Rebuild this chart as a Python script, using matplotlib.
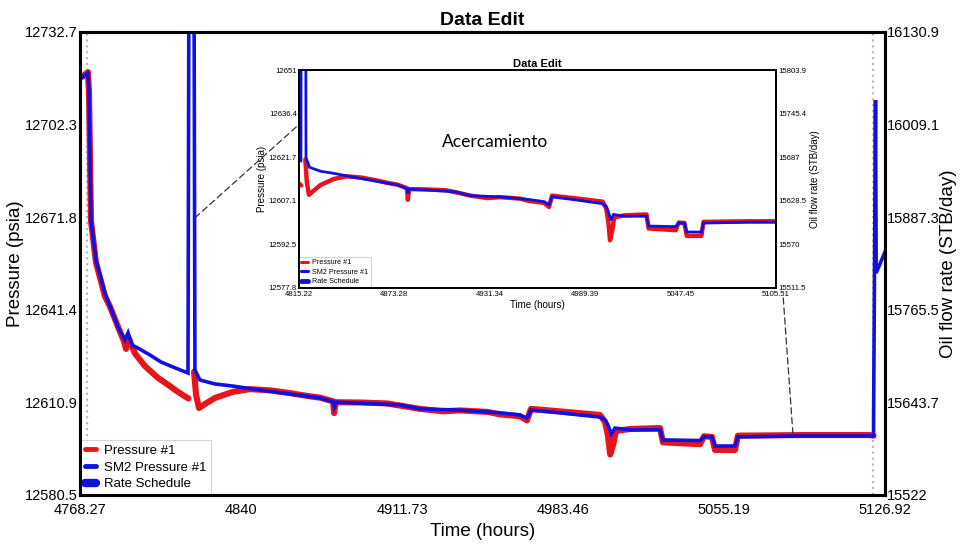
import matplotlib
matplotlib.use("Agg")
import matplotlib.pyplot as plt
from matplotlib.lines import Line2D
from matplotlib.patches import ConnectionPatch

plt.rcParams['font.family'] = ['Liberation Sans', 'DejaVu Sans']
NaN = float('nan')

# ---------------- data ----------------
time_p1 = [4769.2, 4771.8, 4772.3, 4772.7, 4773.2, 4775.4, 4779.4, 4781.6, 4786.1, 4787.9,
           4788.8, 4789.7, 4792.8, 4797.2, 4803.0, 4807.0, 4811.9, 4816.6, 4817.5,
           4819.1, 4820.0, 4821.3, 4824.0, 4828.4, 4836.4, 4844.0, 4852.9, 4861.8, 4870.0,
           4875.2, 4881.0, 4881.5, 4882.2, 4893.0, 4905.0, 4910.8, 4919.8, 4930.0, 4937.6,
           4950.0, 4955.4, 4964.3, 4967.4, 4969.2, 4982.1, 5000.0, 5002.2, 5003.5, 5004.5,
           5006.0, 5007.0, 5013.3, 5026.7, 5028.0, 5044.5, 5046.3, 5049.8, 5051.2, 5060.1,
           5061.4, 5089.0, 5120.2, 5121.8]
pressure_p1 = [12717.9, 12719.5, 12713.0, 12693.5, 12670.5, 12657.0, 12645.8, 12642.5, 12634.2, 12631.0,
               12628.5, 12632.5, 12627.0, 12622.9, 12619.0, 12617.0, 12614.4, 12612.2, NaN,
               12621.0, 12613.4, 12609.1, 12610.4, 12612.4, 12614.4, 12615.3, 12614.9, 12614.0, 12613.0,
               12612.5, 12611.3, 12607.4, 12611.0, 12610.9, 12610.6, 12609.9, 12608.8, 12608.0, 12608.3,
               12607.8, 12607.0, 12606.4, 12605.0, 12608.8, 12608.0, 12606.8, 12604.5, 12600.0, 12593.8,
               12597.5, 12601.5, 12602.2, 12602.5, 12597.8, 12597.2, 12599.8, 12599.6, 12595.3, 12595.3,
               12600.0, 12600.2, 12600.2, 12600.0]

time_sm2 = [4768.7, 4771.8, 4772.3, 4772.7, 4773.2, 4775.4, 4779.4, 4785.2, 4788.3, 4789.7,
            4791.4, 4794.1, 4799.5, 4804.4, 4810.6, 4816.4, 4816.8, 4819.1, 4819.5, 4821.7,
            4828.4, 4836.4, 4848.5, 4861.8, 4875.2, 4881.0, 4881.6, 4882.3, 4893.0, 4910.8,
            4919.8, 4937.6, 4955.4, 4964.3, 4967.4, 4969.2, 4982.1, 5000.0, 5002.2, 5003.5,
            5005.0, 5006.6, 5013.3, 5026.7, 5028.0, 5044.5, 5046.3, 5049.8, 5051.2, 5060.1,
            5061.4, 5089.0, 5121.8, 5122.7, 5123.0, 5126.92]
pressure_sm2 = [12717.6, 12719.2, 12713.6, 12693.9, 12670.9, 12657.7, 12646.9, 12635.7, 12631.5, 12633.8,
                12629.8, 12628.8, 12626.5, 12624.2, 12622.3, 12620.6, 12745.0, 12745.0, 12621.6, 12618.3,
                12617.0, 12616.3, 12615.0, 12613.7, 12612.4, 12611.1, 12609.5, 12611.0, 12610.7, 12610.1,
                12608.8, 12608.4, 12607.5, 12606.8, 12605.8, 12608.4, 12607.5, 12606.1, 12605.2, 12603.5,
                12600.5, 12602.5, 12601.9, 12601.9, 12598.6, 12598.4, 12599.6, 12599.6, 12596.6, 12596.6,
                12599.6, 12599.9, 12599.9, 12710.3, 12653.5, 12660.4]

edit_limits = [4771.4, 5121.6]

main_xticks = [4768.27, 4840, 4911.73, 4983.46, 5055.19, 5126.92]
main_xlabels = ["4768.27", "4840", "4911.73", "4983.46", "5055.19", "5126.92"]
main_yticks = [12580.5, 12610.9, 12641.4, 12671.8, 12702.3, 12732.7]
main_ylabels = ["12580.5", "12610.9", "12641.4", "12671.8", "12702.3", "12732.7"]
main_rticks = [15522, 15643.7, 15765.5, 15887.3, 16009.1, 16130.9]
main_rlabels = ["15522", "15643.7", "15765.5", "15887.3", "16009.1", "16130.9"]

inset_xticks = [4815.22, 4873.28, 4931.34, 4989.39, 5047.45, 5105.51]
inset_xlabels = ["4815.22", "4873.28", "4931.34", "4989.39", "5047.45", "5105.51"]
inset_yticks = [12577.8, 12592.5, 12607.1, 12621.7, 12636.4, 12651]
inset_ylabels = ["12577.8", "12592.5", "12607.1", "12621.7", "12636.4", "12651"]
inset_rticks = [15511.5, 15570, 15628.5, 15687, 15745.4, 15803.9]
inset_rlabels = ["15511.5", "15570", "15628.5", "15687", "15745.4", "15803.9"]

legend_labels = ["Pressure #1", "SM2 Pressure #1", "Rate Schedule"]

RED = "#e8141c"
BLUE = "#1010e0"

# ---------------- figure ----------------
fig = plt.figure(figsize=(9.61, 5.44), dpi=100)
fig.patch.set_facecolor("white")


def setup(ax, axr, xt, xl, yt, yl, rt, rl, fs, lw_spine, lab_fs, rlab_fs, title_fs, title_pad,
          labpads, xpad):
    ax.set_xlim(xt[0], xt[-1])
    ax.set_ylim(yt[0], yt[-1])
    axr.set_ylim(rt[0], rt[-1])
    ax.set_xticks(xt)
    ax.set_xticklabels(xl, fontsize=fs)
    ax.set_yticks(yt)
    ax.set_yticklabels(yl, fontsize=fs)
    axr.set_yticks(rt)
    axr.set_yticklabels(rl, fontsize=fs)
    for a in (ax, axr):
        a.tick_params(length=0, pad=1.5)
        for s in a.spines.values():
            s.set_linewidth(lw_spine)
            s.set_color("black")
    ax.tick_params(axis="x", pad=xpad)
    ax.set_xlabel("Time (hours)", fontsize=lab_fs, labelpad=labpads[0])
    ax.set_ylabel("Pressure (psia)", fontsize=lab_fs, labelpad=labpads[1])
    axr.set_ylabel("Oil flow rate (STB/day)", fontsize=rlab_fs, labelpad=labpads[2])
    ax.set_title("Data Edit", fontsize=title_fs, fontweight="bold", pad=title_pad)


def draw_data(ax, lw_red, lw_blue):
    for t in edit_limits:
        ax.axvline(t, color="#bbbbbb", lw=1.6, ls=":", zorder=1)
    ax.plot(time_p1, pressure_p1, color=RED, lw=lw_red, solid_capstyle="round",
            solid_joinstyle="round", zorder=2)
    ax.plot(time_sm2, pressure_sm2, color=BLUE, lw=lw_blue, solid_joinstyle="miter", zorder=3)


def add_legend(ax, fs, lws):
    handles = [Line2D([], [], color=RED, lw=lws[0], solid_capstyle="round"),
               Line2D([], [], color=BLUE, lw=lws[1], solid_capstyle="round"),
               Line2D([], [], color=BLUE, lw=lws[2], solid_capstyle="round")]
    leg = ax.legend(handles, legend_labels, loc="lower left", fontsize=fs, frameon=True,
                    fancybox=False, handlelength=0.9, handletextpad=0.6, borderpad=0.35,
                    labelspacing=0.35, borderaxespad=0.0)
    leg.get_frame().set_edgecolor("#cccccc")
    leg.get_frame().set_linewidth(0.8)
    leg.set_zorder(10)


# main axes
ax = fig.add_axes([0.0832, 0.0901, 0.8377, 0.8511])
axr = ax.twinx()
draw_data(ax, 4.4, 2.6)
setup(ax, axr, main_xticks, main_xlabels, main_yticks, main_ylabels, main_rticks, main_rlabels,
      fs=10.5, lw_spine=2.2, lab_fs=13.5, rlab_fs=13.5, title_fs=14, title_pad=5,
      labpads=(4, 1, 0), xpad=6)
add_legend(ax, 9.5, (3.5, 3.5, 6))

# inset axes
ins = fig.add_axes([0.3111, 0.4706, 0.4964, 0.4007])
ins.set_facecolor("white")
insr = ins.twinx()
draw_data(ins, 3.2, 2.0)
setup(ins, insr, inset_xticks, inset_xlabels, inset_yticks, inset_ylabels, inset_rticks, inset_rlabels,
      fs=5.6, lw_spine=1.4, lab_fs=7, rlab_fs=7, title_fs=8, title_pad=2, labpads=(1.5, 1, 3),
      xpad=2)
add_legend(ins, 5.2, (2.2, 2.2, 3.5))

ins.text(0.30, 0.67, "Acercamiento", transform=ins.transAxes, fontsize=12.5,
         family=["Lato", "DejaVu Sans"], ha="left", va="center")

# dashed connectors from main curve to the inset
for xy_main, xy_ins in [((4819.5, 12671.6), (0.0, 0.75)), ((5085.9, 12600.6), (1.015, -0.04))]:
    cp = ConnectionPatch(xyA=xy_main, coordsA=ax.transData, xyB=xy_ins, coordsB=ins.transAxes,
                         color="#333333", lw=0.9, ls=(0, (5, 3)), zorder=20)
    fig.add_artist(cp)

fig.savefig("out.png", dpi=100, facecolor="white")
